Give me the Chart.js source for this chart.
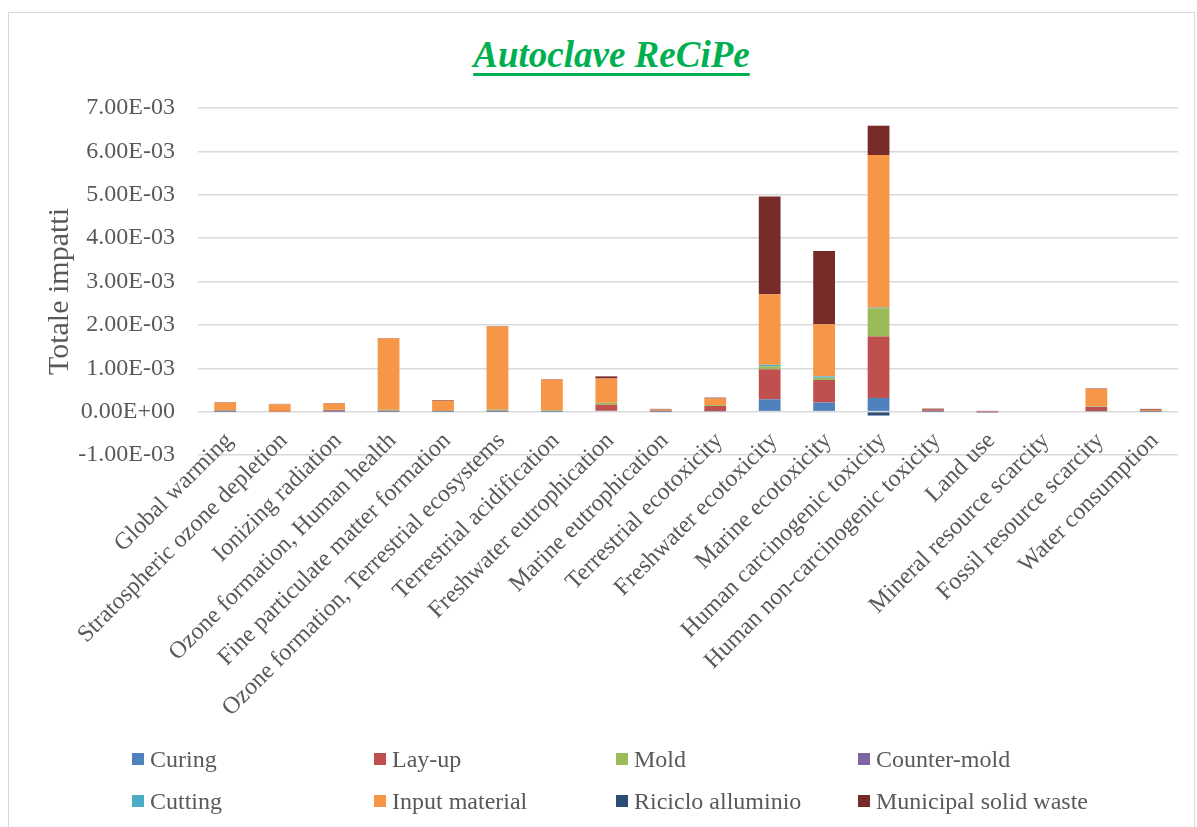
<!DOCTYPE html>
<html>
<head>
<meta charset="utf-8">
<script src="https://cdn.jsdelivr.net/npm/chart.js@4"></script>
<style>
    body { margin: 0; background: #fff; }
    .wrap { position: relative; width: 1197px; height: 827px; overflow: hidden; }
    .frame { position: absolute; left: 8px; top: 12px; width: 1187px; height: 840px; border: 1px solid #d9d9d9; box-sizing: border-box; }
    .title { position: absolute; left: 0; width: 1223px; top: 36px; text-align: center;
        font: italic bold 37px 'Liberation Serif', 'Times New Roman', serif; line-height: 37px;
        color: #00B050; text-decoration: underline; text-decoration-thickness: 3px; text-underline-offset: 6px; }
    .legend-item { position: absolute; height: 30px; display: flex; align-items: center;
        font: 24px 'Liberation Serif', 'Times New Roman', serif; color: #595959; white-space: nowrap; }
    .legend-item span.box { width: 12px; height: 12px; margin-right: 6px; display: inline-block; }
    canvas { position: absolute; left: 0; top: 0; }
</style>
</head>
<body>
<div class="wrap">
    <div class="frame"></div>
    <div class="title">Autoclave ReCiPe</div>
    <canvas id="chart" width="1197" height="827"></canvas>
    <div id="legend"></div>
</div>
<script>
const categories = [
    'Global warming', 'Stratospheric ozone depletion', 'Ionizing radiation',
    'Ozone formation, Human health', 'Fine particulate matter formation',
    'Ozone formation, Terrestrial ecosystems', 'Terrestrial acidification',
    'Freshwater eutrophication', 'Marine eutrophication', 'Terrestrial ecotoxicity',
    'Freshwater ecotoxicity', 'Marine ecotoxicity', 'Human carcinogenic toxicity',
    'Human non-carcinogenic toxicity', 'Land use', 'Mineral resource scarcity',
    'Fossil resource scarcity', 'Water consumption'
];

const curing      = [2e-6, 0, 2e-6, 3e-6, 1e-6, 3e-6, 1e-6, 2e-5, 1e-6, 1e-5, 2.85e-4, 2.1e-4, 3.15e-4, 2e-6, 0, 0, 1e-5, 1e-6];
const layUp       = [2e-5, 5e-6, 3e-5, 2e-5, 5e-6, 2e-5, 5e-6, 1.4e-4, 1.5e-5, 1.2e-4, 6.9e-4, 5.2e-4, 1.415e-3, 3e-5, 2e-6, 0, 1e-4, 1e-5];
const mold        = [1.5e-5, 3e-6, 1e-5, 2e-5, 1e-5, 3e-5, 2e-5, 4e-5, 2e-6, 2e-5, 7e-5, 5e-5, 6.55e-4, 2e-6, 0, 0, 1e-5, 2e-6];
const counterMold = [0, 0, 0, 0, 0, 0, 0, 1e-6, 0, 1e-6, 3e-6, 3e-6, 5e-6, 0, 0, 0, 1e-6, 0];
const cutting     = [0, 0, 0, 0, 0, 0, 0, 2e-6, 0, 2e-6, 3e-5, 3e-5, 1e-5, 0, 0, 0, 2e-6, 0];
const inputMat    = [1.7e-4, 1.6e-4, 1.45e-4, 1.64e-3, 2.35e-4, 1.91e-3, 7.1e-4, 5.6e-4, 3e-5, 1.5e-4, 1.63e-3, 1.2e-3, 3.515e-3, 1e-5, 4e-6, 0, 4e-4, 3e-5];
const riciclo     = [0, 0, 0, 0, 0, 0, 0, 0, 0, 0, 0, 0, -9e-5, 0, -6e-6, 0, 0, 0];
const msw         = [1e-5, 1e-5, 1e-5, 1e-5, 1.5e-5, 1e-5, 1e-5, 5e-5, 1.5e-5, 2e-5, 2.25e-3, 1.69e-3, 6.77e-4, 2.5e-5, 0, 0, 1e-5, 2e-5];

const seriesNames  = ['Curing', 'Lay-up', 'Mold', 'Counter-mold', 'Cutting', 'Input material', 'Riciclo alluminio', 'Municipal solid waste'];
const seriesColors = ['#4F81BD', '#C0504D', '#9BBB59', '#8064A2', '#4BACC6', '#F79646', '#2C4D75', '#772C2A'];
const seriesData   = [curing, layUp, mold, counterMold, cutting, inputMat, riciclo, msw];
const yTitle = 'Totale impatti';

const serif = "'Liberation Serif', 'Times New Roman', serif";
const textColor = '#595959';

function sci(v) {
    if (Math.abs(v) < 1e-12) return '0.00E+00';
    const parts = v.toExponential(2).split('e');
    const n = parseInt(parts[1], 10);
    return parts[0] + 'E' + (n < 0 ? '-' : '+') + String(Math.abs(n)).padStart(2, '0');
}

// category labels drawn 45deg, ending just under the -1E-03 line like Excel does,
// plus the y title (a bit lower than the plot middle, as in the original)
const excelText = {
    id: 'excelText',
    afterDraw(chart) {
        const { ctx, scales: { x }, chartArea } = chart;
        ctx.save();
        ctx.fillStyle = textColor;
        ctx.font = '24px ' + serif;
        ctx.textAlign = 'right';
        ctx.textBaseline = 'middle';
        categories.forEach((label, i) => {
            const px = x.getPixelForValue(i);
            ctx.save();
            ctx.translate(px + 4, chartArea.bottom - 18);
            ctx.rotate(-Math.PI / 4);
            ctx.fillText(label, 0, 0);
            ctx.restore();
        });

        ctx.font = '30px ' + serif;
        ctx.textAlign = 'center';
        ctx.translate(60, (chartArea.top + chartArea.bottom) / 2 + 10);
        ctx.rotate(-Math.PI / 2);
        ctx.fillText(yTitle, 0, 0);
        ctx.restore();
    }
};

new Chart(document.getElementById('chart'), {
    type: 'bar',
    data: {
        labels: categories,
        datasets: seriesNames.map((name, i) => ({
            label: name,
            data: seriesData[i],
            backgroundColor: seriesColors[i],
            borderWidth: 0,
            categoryPercentage: 1,
            barPercentage: 0.4
        }))
    },
    options: {
        responsive: false,
        animation: false,
        layout: { padding: { top: 108, right: 19, bottom: 0, left: 0 } },
        plugins: {
            legend: { display: false },
            title: { display: false },
            tooltip: { enabled: false }
        },
        scales: {
            x: {
                stacked: true,
                grid: { display: false, drawTicks: false },
                border: { display: false },
                ticks: { display: false },
                afterFit: s => { s.height = 372; }
            },
            y: {
                stacked: true,
                min: -0.001,
                max: 0.007,
                grid: { color: '#d9d9d9', lineWidth: 1.5, drawTicks: false },
                border: { display: false },
                ticks: {
                    stepSize: 0.001,
                    padding: 23,
                    color: textColor,
                    font: { family: serif, size: 24 },
                    callback: v => sci(v)
                },
                afterFit: s => { s.width = 198; }
            }
        }
    },
    plugins: [excelText]
});

// legend: 4 columns x 2 rows, same order as the datasets
const legend = document.getElementById('legend');
seriesNames.forEach((name, i) => {
    const item = document.createElement('div');
    item.className = 'legend-item';
    item.style.left = (132 + (i % 4) * 242) + 'px';
    item.style.top = (i < 4 ? 744 : 786) + 'px';
    item.innerHTML = `<span class="box" style="background:${seriesColors[i]}"></span>${name}`;
    legend.appendChild(item);
});
</script>
</body>
</html>
